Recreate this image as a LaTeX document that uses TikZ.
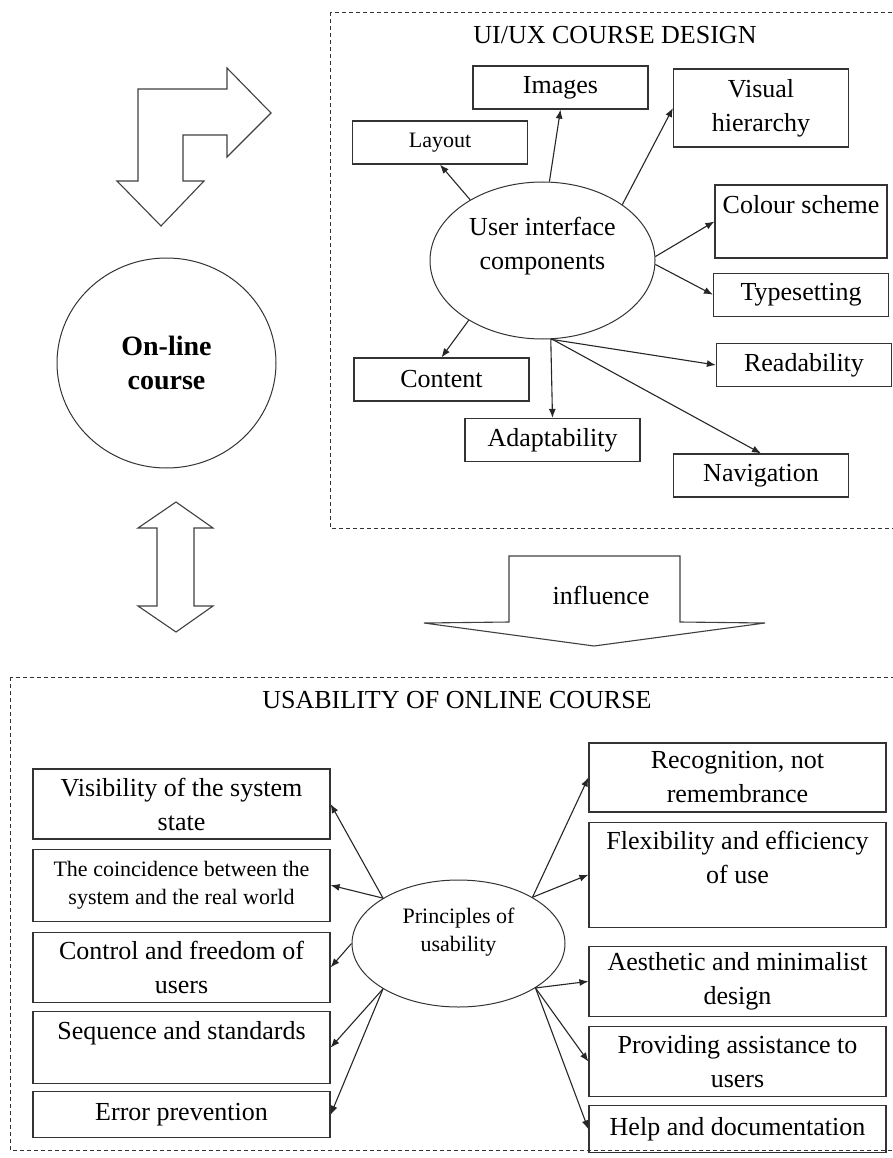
\documentclass[tikz,border=0pt]{standalone}
\usepackage{fontspec}
\setmainfont{Liberation Serif}
\usetikzlibrary{shapes.geometric, arrows.meta, positioning}

\begin{document}
\begin{tikzpicture}[
    x=1pt, y=-1pt,
    every node/.style={font=\fontsize{26}{34}\selectfont},
    smallfont/.style={font=\fontsize{22}{28}\selectfont},
    ubox/.style={rectangle, draw=black!80, line width=1.2pt, minimum width=175pt, minimum height=43pt, inner sep=0pt, align=center},
    pbox/.style={rectangle, draw=black!80, line width=1.2pt, minimum width=297pt, inner sep=0pt, align=center},
    oval/.style={ellipse, draw=black!80, line width=1pt, inner sep=0pt, align=center},
    arrow/.style={-{Latex[length=9pt, width=7pt]}, line width=1.1pt, black!85},
    blockarrow/.style={draw=black!75, line width=1.1pt, fill=white},
    frame/.style={draw=black!80, dash pattern=on 4pt off 3pt, line width=0.9pt},
]
\clip (0,0) rectangle (893,1158);

% left column
\draw[blockarrow] (138,89) -- (227,89) -- (227,68) -- (271,113) -- (227,157) -- (227,135) -- (183,135) -- (183,181) -- (204,181) -- (161,226) -- (117,181) -- (138,181) -- cycle;
\node[oval, minimum width=219pt, minimum height=210pt, font=\fontsize{28}{34}\selectfont\bfseries] (olc) at (166.5,363) {On-line\\course};
\draw[blockarrow] (176,502) -- (213,528) -- (194,528) -- (194,606) -- (213,606) -- (176,632) -- (138,606) -- (157,606) -- (157,528) -- (138,528) -- cycle;

% UI/UX course design
\draw[frame] (330,12) rectangle (900,528);
\node (uxtitle) at (615,35) {UI/UX COURSE DESIGN};
\node[oval, minimum width=225pt, minimum height=157pt] (uic) at (542.5,260.5) {User interface\\components\\ \mbox{}};

\node[ubox] (img) at (560.5,87.5) {Images};
\node[ubox, smallfont] (lay) at (440,142.5) {Layout};
\node[ubox, minimum height=78pt] (vis) at (761,108) {Visual\\hierarchy};
\node[ubox, minimum width=172pt, minimum height=73pt] (col) at (801,221.5) {Colour scheme\\ \mbox{}};
\node[ubox, below=14pt of col] (typ) {Typesetting};
\node[ubox] (rea) at (804,365) {Readability};
\node[ubox] (con) at (441.5,379.5) {Content};
\node[ubox] (ada) at (552.5,440) {Adaptability};
\node[ubox] (nav) at (761,475.5) {Navigation};

\draw[arrow] (uic.140) -- (lay.south);
\draw[arrow] (uic.85) -- (img.south);
\draw[arrow] (uic.35) -- (vis.west);
\draw[arrow] (uic.2) -- (col.west);
\draw[arrow] (uic.-2) -- (typ.west);
\draw[arrow] (uic.-141) -- (con.north);
\draw[arrow] (uic.-84) -- (ada.north);
\draw[arrow] (uic.-84) -- (rea.west);
\draw[arrow] (uic.-83) -- (nav.north);

% influence
\draw[blockarrow] (509,556) -- (680,556) -- (680,622) -- (765,623) -- (594,646) -- (424,623) -- (509,622) -- cycle;
\node (infl) at (601,595) {influence};

% usability of online course
\draw[frame] (10,677) rectangle (900,1150);
\node (ustitle) at (457,700) {USABILITY OF ONLINE COURSE};
\node[oval, smallfont, minimum width=213pt, minimum height=127pt] (pou) at (458.5,943.5) {Principles of\\usability\\ \mbox{}};

\node[pbox, minimum height=70pt] (visib) at (181.5,804) {Visibility of the system\\state};
\node[pbox, smallfont, minimum height=72pt, below=9pt of visib] (coin) {The coincidence between the\\system and the real world};
\node[pbox, minimum height=70pt, below=10pt of coin] (ctrl) {Control and freedom of\\users};
\node[pbox, minimum height=72pt, below=8pt of ctrl] (seq) {Sequence and standards\\ \mbox{}};
\node[pbox, minimum height=46pt, below=7pt of seq] (err) {Error prevention};

\node[pbox, minimum height=69pt] (recog) at (737.5,777.5) {Recognition, not\\remembrance};
\node[pbox, minimum height=105pt, below=9pt of recog] (flex) {Flexibility and efficiency\\of use\\ \mbox{}};
\node[pbox, minimum height=70pt, below=18pt of flex] (aest) {Aesthetic and minimalist\\design};
\node[pbox, minimum height=70pt, below=9pt of aest] (prov) {Providing assistance to\\users};
\node[pbox, minimum height=47pt, below=8pt of prov] (help) {Help and documentation};

\draw[arrow] (pou.149) -- (visib.east);
\draw[arrow] (pou.149) -- (coin.east);
\draw[arrow] (pou.180) -- (ctrl.east);
\draw[arrow] (pou.-149) -- (seq.east);
\draw[arrow] (pou.-149) -- (err.east);
\draw[arrow] (pou.32) -- (recog.west);
\draw[arrow] (pou.32) -- (flex.west);
\draw[arrow] (pou.-30) -- (aest.west);
\draw[arrow] (pou.-30) -- (prov.west);
\draw[arrow] (pou.-30) -- (help.west);

\end{tikzpicture}
\end{document}
